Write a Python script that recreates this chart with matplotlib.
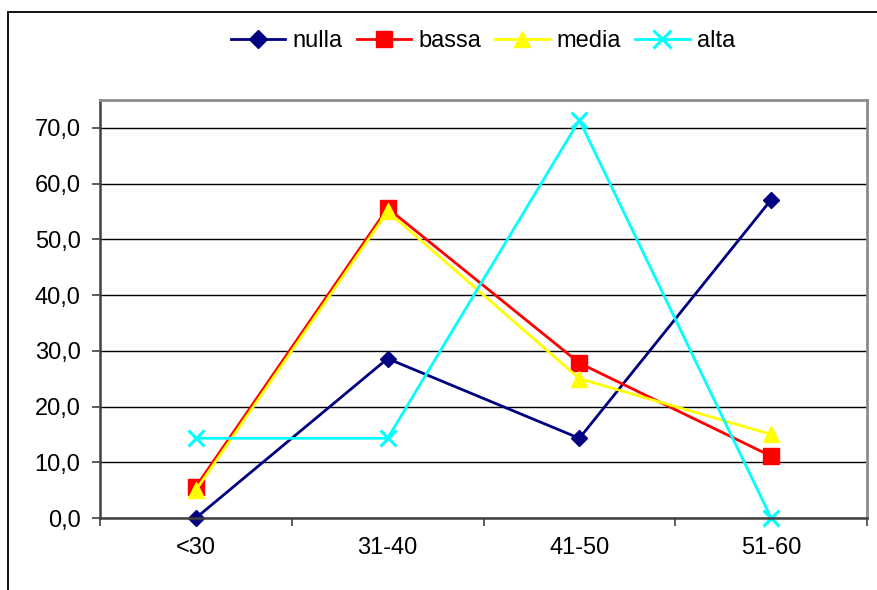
import matplotlib
matplotlib.use("Agg")
import matplotlib.pyplot as plt
from matplotlib.patches import Rectangle
from matplotlib.ticker import FuncFormatter

plt.rcParams['font.family'] = ['Liberation Sans', 'DejaVu Sans']

# Age classes and percentage per level
categories = ['<30', '31-40', '41-50', '51-60']
nulla = [0.0, 28.6, 14.3, 57.1]
bassa = [5.6, 55.6, 27.8, 11.1]
media = [5.0, 55.0, 25.0, 15.0]
alta = [14.3, 14.3, 71.4, 0.0]
y_ticks = [0, 10, 20, 30, 40, 50, 60, 70]

W, H = 877, 590
fig = plt.figure(figsize=(W / 100, H / 100), dpi=100)
ax = fig.add_axes([100 / W, 1 - 518 / H, 767 / W, 418 / H])

# outer chart border (cut at right and bottom like the original)
fig.patches.append(Rectangle((8 / W, -0.05), 1.2, 1 - 12 / H + 0.05,
                             transform=fig.transFigure, fill=False,
                             edgecolor='black', lw=1.3))

x = [i + 0.5 for i in range(len(categories))]
series = [
    ('nulla', nulla, dict(color='#000080', marker='D', ms=8)),
    ('bassa', bassa, dict(color='#ff0000', marker='s', ms=11)),
    ('media', media, dict(color='#ffff00', marker='^', ms=11)),
    ('alta', alta, dict(color='#00ffff', marker='x', ms=12, mew=2.2)),
]
for name, vals, style in series:
    ax.plot(x, vals, lw=2, label=name, clip_on=False, **style)

ax.set_xlim(0, len(categories))
ax.set_ylim(0, 75)
ax.set_yticks(y_ticks)
ax.yaxis.set_major_formatter(FuncFormatter(lambda v, p: f'{v:.1f}'.replace('.', ',')))
ax.yaxis.grid(True, color='black', lw=1.0)
ax.set_axisbelow(True)

# category boundaries as ticks, labels at centres
ax.set_xticks(range(len(categories) + 1))
ax.set_xticklabels([])
ax.set_xticks(x, minor=True)
ax.set_xticklabels(categories, minor=True)
ax.tick_params(axis='x', which='major', direction='out', length=6, width=1.1, color='#303030')
ax.tick_params(axis='x', which='minor', length=0, pad=14, labelsize=17)
ax.tick_params(axis='y', direction='out', length=6, width=1.1, color='#303030', pad=8, labelsize=17)

for side in ('top', 'right'):
    ax.spines[side].set_color('#8c8c8c')
    ax.spines[side].set_linewidth(2)
for side in ('left', 'bottom'):
    ax.spines[side].set_color('#404040')
    ax.spines[side].set_linewidth(1.8)

fig.legend(loc='center', bbox_to_anchor=(483 / W, 1 - 41 / H), ncol=4,
           frameon=False, fontsize=17, handlelength=2.3, handletextpad=0.3,
           columnspacing=0.6, borderaxespad=0, markerscale=1.1)

fig.savefig('out.png', dpi=100)
